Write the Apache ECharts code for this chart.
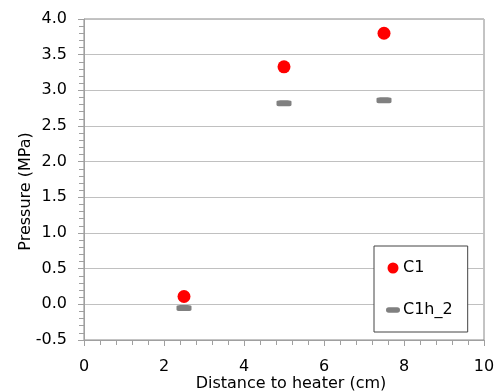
<!DOCTYPE html>
<html>
<head>
<meta charset="utf-8">
<script src="https://cdn.jsdelivr.net/npm/echarts@6/dist/echarts.min.js"></script>
<style>
  html, body { margin: 0; padding: 0; background: #fff; }
  #chart { width: 497px; height: 392px; }
</style>
</head>
<body>
<div id="chart"></div>
<script>
// distance to heater (cm)
const distances = [2.5, 5, 7.5]
// pressure (MPa)
const c1Values = [0.11, 3.33, 3.8]
const c1h2Values = [-0.05, 2.82, 2.86]

const seriesNames = ['C1', 'C1h_2']

const font = 'DejaVu Sans, Verdana, sans-serif'
const gray = '#a0a0a0'

const chart = echarts.init(document.getElementById('chart'))

const option = {
  animation: false,
  grid: {
    left: 84,
    right: 13,
    top: 19,
    bottom: 52,
    show: true,
    borderColor: '#888',
    borderWidth: 1,
    outerBoundsMode: 'none'
  },
  legend: {
    orient: 'vertical',
    left: 374,
    top: 246,
    padding: [14, 15, 14, 12],
    itemWidth: 14,
    itemHeight: 11,
    itemGap: 26,
    borderColor: '#444',
    borderWidth: 1,
    backgroundColor: '#fff',
    textStyle: { fontFamily: font, fontSize: 16, color: '#000', padding: [0, 0, 0, -2] },
    data: [
      { name: seriesNames[0], icon: 'circle' },
      { name: seriesNames[1], icon: 'path://M3,0H12A3,3 0 0 1 12,6H3A3,3 0 0 1 3,0Z' }
    ]
  },
  xAxis: {
    type: 'value',
    min: 0,
    max: 10,
    interval: 2,
    name: 'Distance to heater (cm)',
    nameLocation: 'middle',
    nameGap: 36,
    nameMoveOverlap: false,
    nameTextStyle: { fontFamily: font, fontSize: 16, color: '#000', padding: [0, 0, 0, 14] },
    axisLine: { show: true, onZero: false, lineStyle: { color: gray } },
    axisTick: { show: true, length: 6, lineStyle: { color: gray } },
    minorTick: { show: true, splitNumber: 5, length: 5, lineStyle: { color: gray } },
    axisLabel: { fontFamily: font, fontSize: 16, color: '#000', margin: 19 },
    splitLine: { show: false }
  },
  yAxis: {
    type: 'value',
    min: -0.5,
    max: 4,
    interval: 0.5,
    name: 'Pressure (MPa)',
    nameLocation: 'middle',
    nameGap: 50,
    nameMoveOverlap: false,
    nameTextStyle: { fontFamily: font, fontSize: 16, color: '#000', padding: [0, 24, 0, 0] },
    axisLine: { show: true, onZero: false, lineStyle: { color: gray } },
    axisTick: { show: true, length: 6, lineStyle: { color: gray } },
    minorTick: { show: true, splitNumber: 5, length: 5, lineStyle: { color: gray } },
    axisLabel: {
      fontFamily: font,
      fontSize: 16,
      color: '#000',
      margin: 17,
      formatter: v => v.toFixed(1)
    },
    splitLine: { show: true, lineStyle: { color: '#c0c0c0' } }
  },
  series: [
    {
      name: seriesNames[0],
      type: 'scatter',
      symbol: 'circle',
      symbolSize: 13,
      itemStyle: { color: '#ff0000', opacity: 1 },
      z: 3,
      data: distances.map((d, i) => [d, c1Values[i]])
    },
    {
      name: seriesNames[1],
      type: 'scatter',
      symbol: 'roundRect',
      symbolSize: [15, 6],
      itemStyle: { color: '#808080', opacity: 1 },
      z: 2,
      data: distances.map((d, i) => [d, c1h2Values[i]])
    }
  ]
}

chart.setOption(option)
</script>
</body>
</html>
